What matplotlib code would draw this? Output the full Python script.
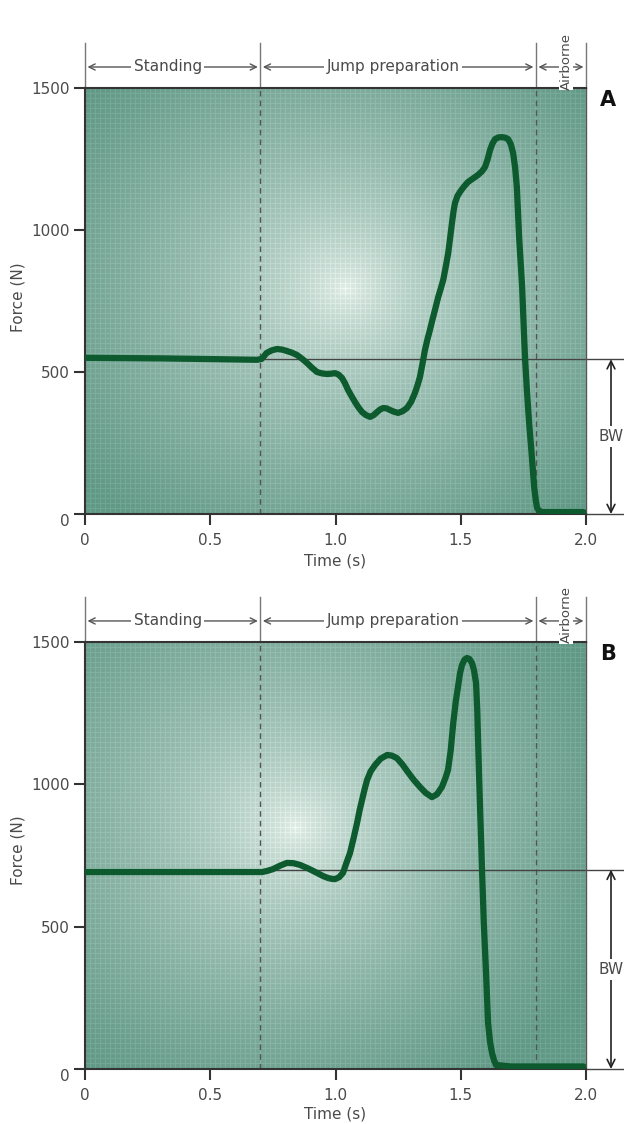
import matplotlib.pyplot as plt
import numpy as np

# panel A : counter-movement jump, force plate trace (time s, force N)
time_a = [0.0, 0.30, 0.539, 0.687, 0.705, 0.715, 0.725, 0.745, 0.766, 0.786, 0.806,
          0.826, 0.846, 0.866, 0.886, 0.906, 0.926, 0.946, 0.966, 0.982, 0.998,
          1.012, 1.026, 1.038, 1.05, 1.064, 1.078, 1.092, 1.106, 1.122, 1.138,
          1.152, 1.166, 1.178, 1.19, 1.204, 1.218, 1.234, 1.25, 1.268, 1.285,
          1.302, 1.317, 1.327, 1.337, 1.347, 1.357, 1.367, 1.377, 1.387, 1.397,
          1.41, 1.42, 1.43, 1.44, 1.45, 1.458, 1.465, 1.471, 1.477, 1.487,
          1.497, 1.512, 1.529, 1.55, 1.569, 1.585, 1.597, 1.607, 1.617, 1.627,
          1.637, 1.65, 1.665, 1.678, 1.689, 1.70, 1.709, 1.717, 1.724, 1.733,
          1.745, 1.753, 1.757, 1.764, 1.773, 1.784, 1.793, 1.80, 1.805, 1.814,
          1.824, 1.90, 1.99]
force_a = [550, 548, 545, 543, 546, 556, 567, 576, 581, 579, 574,
           568, 560, 547, 532, 515, 500, 495, 493, 494, 496,
           491, 479, 460, 437, 415, 394, 375, 359, 348, 342,
           348, 359, 368, 373, 372, 366, 360, 356, 362, 373,
           395, 426, 452, 482, 528, 577, 615, 648, 684, 718,
           764, 793, 824, 870, 919, 975, 1025, 1065, 1095, 1120,
           1134, 1152, 1169, 1182, 1194, 1207, 1222, 1248, 1282, 1305,
           1320, 1326, 1327, 1325, 1320, 1302, 1271, 1220, 1151, 975,
           800, 623, 542, 437, 320, 201, 95, 45, 21, 10,
           7, 7, 7]
bw_a = 545

# panel B
time_b = [0.0, 0.30, 0.659, 0.707, 0.728, 0.75, 0.778, 0.806, 0.832, 0.858, 0.892,
          0.926, 0.95, 0.97, 0.985, 0.998, 1.015, 1.03, 1.042, 1.058, 1.072,
          1.086, 1.096, 1.106, 1.116, 1.126, 1.14, 1.158, 1.18, 1.206, 1.225,
          1.245, 1.267, 1.289, 1.313, 1.337, 1.36, 1.385, 1.405, 1.425, 1.44,
          1.449, 1.46, 1.47, 1.48, 1.489, 1.497, 1.505, 1.515, 1.525, 1.535,
          1.545, 1.553, 1.561, 1.566, 1.569, 1.577, 1.585, 1.592, 1.601, 1.609,
          1.617, 1.625, 1.633, 1.641, 1.70, 1.99]
force_b = [692, 692, 692, 692, 696, 702, 714, 724, 723, 717, 704,
           689, 678, 671, 668, 667, 674, 689, 720, 759, 810,
           864, 908, 945, 982, 1015, 1045, 1068, 1090, 1103, 1101,
           1092, 1070, 1043, 1015, 991, 970, 955, 965, 991, 1025,
           1050, 1120, 1215, 1290, 1342, 1390, 1419, 1438, 1444, 1440,
           1426, 1400, 1356, 1260, 1156, 920, 699, 513, 337, 162,
           95, 56, 30, 14, 9, 9]
bw_b = 700

phase_edges = [0, 0.7, 1.8, 2.0]
phase_names = ['Standing', 'Jump preparation', 'Airborne']
x_ticks = [0, 0.5, 1.0, 1.5, 2.0]
x_ticklabels = ['0', '0.5', '1.0', '1.5', '2.0']
y_ticks = [0, 500, 1000, 1500]

TXT = '#4a4a4a'
GREEN = '#0c5a2e'
PX_N = 426 / 1500      # pixels per newton
PX_S = 501 / 2.0       # pixels per second

fig = plt.figure(figsize=(6.24, 11.24), dpi=100)
plt.rcParams['font.family'] = ['DejaVu Sans']


def add_px_axes(left, top, right, bottom):
    return fig.add_axes([left / 624, 1 - bottom / 1124,
                         (right - left) / 624, (bottom - top) / 1124])


def background(ax, cx, cy):
    # teal "graph paper" with a light glare
    h, w = 426, 501
    yy, xx = np.mgrid[0:h, 0:w]
    r = np.sqrt(((xx - cx) / 340) ** 2 + ((yy - cy) / 300) ** 2)
    t = np.clip(r, 0, 1) ** 0.6
    edge = np.array([98, 152, 134]) / 255
    centre = np.array([232, 240, 236]) / 255
    img = centre + (edge - centre) * t[..., None]
    grid = ((xx % 5 == 0) | (yy % 5 == 0)).astype(float) * 0.05
    img = np.clip(img + grid[..., None], 0, 1)
    ax.imshow(img, extent=[0, 2, 0, 1500], aspect='auto', zorder=0,
              interpolation='nearest')


def panel(ax, t, f, bw, letter, glare):
    background(ax, *glare)
    ax.set_xlim(0, 2)
    ax.set_ylim(0, 1500)

    # phase separators
    for x in phase_edges[1:3]:
        ax.plot([x, x], [0, 1500], ls=(0, (4, 3)), color='#555555', lw=1, zorder=2)

    # body weight line, extends past the axes
    ax.plot([0, 2.15], [bw, bw], color='#444444', lw=1, clip_on=False, zorder=2)
    ax.plot([2.0, 2.15], [0, 0], color='#444444', lw=1, clip_on=False, zorder=2)

    ax.plot(t, f, color=GREEN, lw=4.5, solid_joinstyle='round',
            solid_capstyle='round', zorder=3)

    # dimension lines for the phases
    y_top = 1500 + 45 / PX_N
    y_arr = 1500 + 21 / PX_N
    for x in phase_edges:
        ax.plot([x, x], [1500, y_top], color='#777777', lw=1, clip_on=False)
    for i, name in enumerate(phase_names):
        x0, x1 = phase_edges[i] + 0.01, phase_edges[i + 1] - 0.01
        ax.annotate('', xy=(x0, y_arr), xytext=(x1, y_arr), annotation_clip=False,
                    arrowprops=dict(arrowstyle='<->', color='#555555', lw=1,
                                    shrinkA=0, shrinkB=0, mutation_scale=11))
        mid = (phase_edges[i] + phase_edges[i + 1]) / 2
        if name == 'Airborne':
            ax.text(mid + 0.02, 1500 + 27 / PX_N, name, rotation=90, ha='center',
                    va='center', fontsize=9.5, color=TXT, clip_on=False,
                    bbox=dict(fc='white', ec='none', pad=0.5))
        else:
            ax.text(mid - 0.02, y_arr, name, ha='center', va='center', fontsize=11,
                    color=TXT, clip_on=False,
                    bbox=dict(fc='white', ec='none', pad=1.5))

    # BW double arrow on the right
    xb = 2.0 + 25 / PX_S
    ax.annotate('', xy=(xb, bw), xytext=(xb, 0), annotation_clip=False,
                arrowprops=dict(arrowstyle='<->', color='#222222', lw=1.2,
                                shrinkA=0, shrinkB=0, mutation_scale=14))
    ax.text(xb, bw / 2, 'BW', ha='center', va='center', fontsize=11, color=TXT,
            bbox=dict(fc='white', ec='none', pad=2), clip_on=False)

    ax.text(2.0 + 22 / PX_S, 1500 - 12 / PX_N, letter, ha='center', va='center',
            fontsize=15, fontweight='bold', color='#111111', clip_on=False)

    ax.set_xticks(x_ticks)
    ax.set_xticklabels(x_ticklabels)
    ax.set_yticks(y_ticks)
    ax.tick_params(direction='out', length=8, width=1.5, color='#333333',
                   labelsize=11, labelcolor=TXT)
    ax.tick_params(axis='x', pad=6)
    ax.tick_params(axis='y', pad=3)
    ax.get_yticklabels()[0].set_va('top')
    for side in ['left', 'bottom', 'top']:
        ax.spines[side].set_color('#333333')
        ax.spines[side].set_linewidth(1.5)
    ax.spines['right'].set_color('#555555')
    ax.spines['right'].set_linewidth(1)


ax_a = add_px_axes(85, 88, 586, 514)
panel(ax_a, time_a, force_a, bw_a, 'A', (260, 200))
ax_b = add_px_axes(85, 642, 586, 1069)
panel(ax_b, time_b, force_b, bw_b, 'B', (210, 185))

fig.text(335 / 624, 1 - 561 / 1124, 'Time (s)', ha='center', va='center',
         fontsize=11, color=TXT)
fig.text(335 / 624, 1 - 1114 / 1124, 'Time (s)', ha='center', va='center',
         fontsize=11, color=TXT)
fig.text(18 / 624, 1 - 297 / 1124, 'Force (N)', rotation=90, ha='center',
         va='center', fontsize=11, color=TXT)
fig.text(18 / 624, 1 - 850 / 1124, 'Force (N)', rotation=90, ha='center',
         va='center', fontsize=11, color=TXT)

fig.savefig('out.png', dpi=100)
